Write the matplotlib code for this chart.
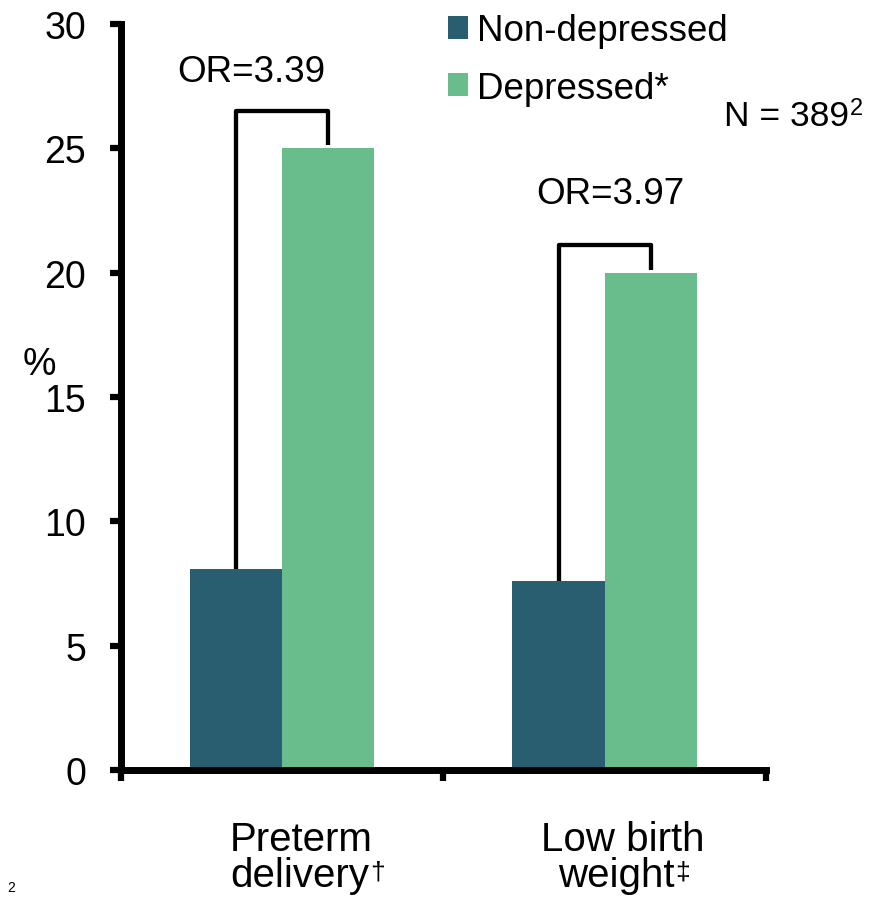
import matplotlib
matplotlib.use('Agg')
import matplotlib.pyplot as plt
import numpy as np

plt.rcParams['font.family'] = ['Liberation Sans', 'DejaVu Sans']

# data
groups = ['Non-depressed', 'Depressed*']
cat_line1 = ['Preterm', 'Low birth']
cat_line2 = ['delivery', 'weight']
cat_marks = ['\u2020', '\u2021']
non_depressed = [8.1, 7.6]
depressed = [25.0, 20.0]
odds = ['OR=3.39', 'OR=3.97']
bracket_top = [26.5, 21.1]

DARK = '#285E70'
GREEN = '#69BD8D'
W = 0.286

fig = plt.figure(figsize=(8.85, 9.03), dpi=100)
ax = fig.add_axes([0.1367, 0.1462, 0.7288, 0.8261])

x = np.arange(len(cat_line1))
b1 = ax.bar(x - W / 2, non_depressed, W, color=DARK, label=groups[0], zorder=2)
b2 = ax.bar(x + W / 2, depressed, W, color=GREEN, label=groups[1], zorder=2)

# OR brackets
for i in range(len(x)):
    xl = x[i] - W / 2
    xr = x[i] + W / 2
    ax.plot([xl, xl, xr, xr],
            [non_depressed[i], bracket_top[i], bracket_top[i], depressed[i] + 0.12],
            color='black', lw=3.1, solid_joinstyle='round', solid_capstyle='butt', zorder=3)

ax.text(-0.097, 28.1, odds[0], ha='center', va='center', fontsize=26.5)
ax.text(1.016, 23.2, odds[1], ha='center', va='center', fontsize=26.5)

ax.set_xlim(-0.5, 1.5)
ax.set_ylim(0, 30)
ax.set_yticks(np.arange(0, 31, 5))
ax.set_xticks([-0.5, 0.5, 1.5])
ax.set_xticklabels([])
ax.tick_params(axis='y', labelsize=27, length=8, width=4.5, direction='out', pad=17)
ax.tick_params(axis='x', length=8, width=4.5, direction='out')
for s in ['top', 'right']:
    ax.spines[s].set_visible(False)
for s in ['left', 'bottom']:
    ax.spines[s].set_linewidth(5)

# category labels (two lines, superscript footnote marks)
tr = ax.get_xaxis_transform()
line1_x = [0.058, 1.056]
line2_x = [0.053, 1.035]
for i in range(len(x)):
    ax.text(line1_x[i], -0.107, cat_line1[i], transform=tr, ha='center', va='baseline', fontsize=29)
    t2 = ax.text(line2_x[i], -0.155, cat_line2[i], transform=tr, ha='center', va='baseline', fontsize=29)
    ax.annotate(cat_marks[i], xy=(1, 1), xycoords=t2, xytext=(1, -3), textcoords='offset points',
                ha='left', va='top', fontsize=19)

fig.text(0.045, 0.596, '%', ha='center', va='center', fontsize=27)
tn = fig.text(0.818, 0.861, 'N = 389', ha='left', va='baseline', fontsize=25.5)
ax.annotate('2', xy=(1, 1), xycoords=tn, xytext=(1, 1), textcoords='offset points',
            ha='left', va='top', fontsize=17, annotation_clip=False)
fig.text(0.013, 0.017, '2', ha='center', va='center', fontsize=10)

fig.legend(handles=[b1, b2], loc='upper left', bbox_to_anchor=(0.506, 0.984),
           frameon=False, fontsize=26.5, handlelength=0.56, handleheight=0.6,
           handletextpad=0.22, labelspacing=0.6, borderpad=0, borderaxespad=0)

fig.savefig('out.png', dpi=100)
